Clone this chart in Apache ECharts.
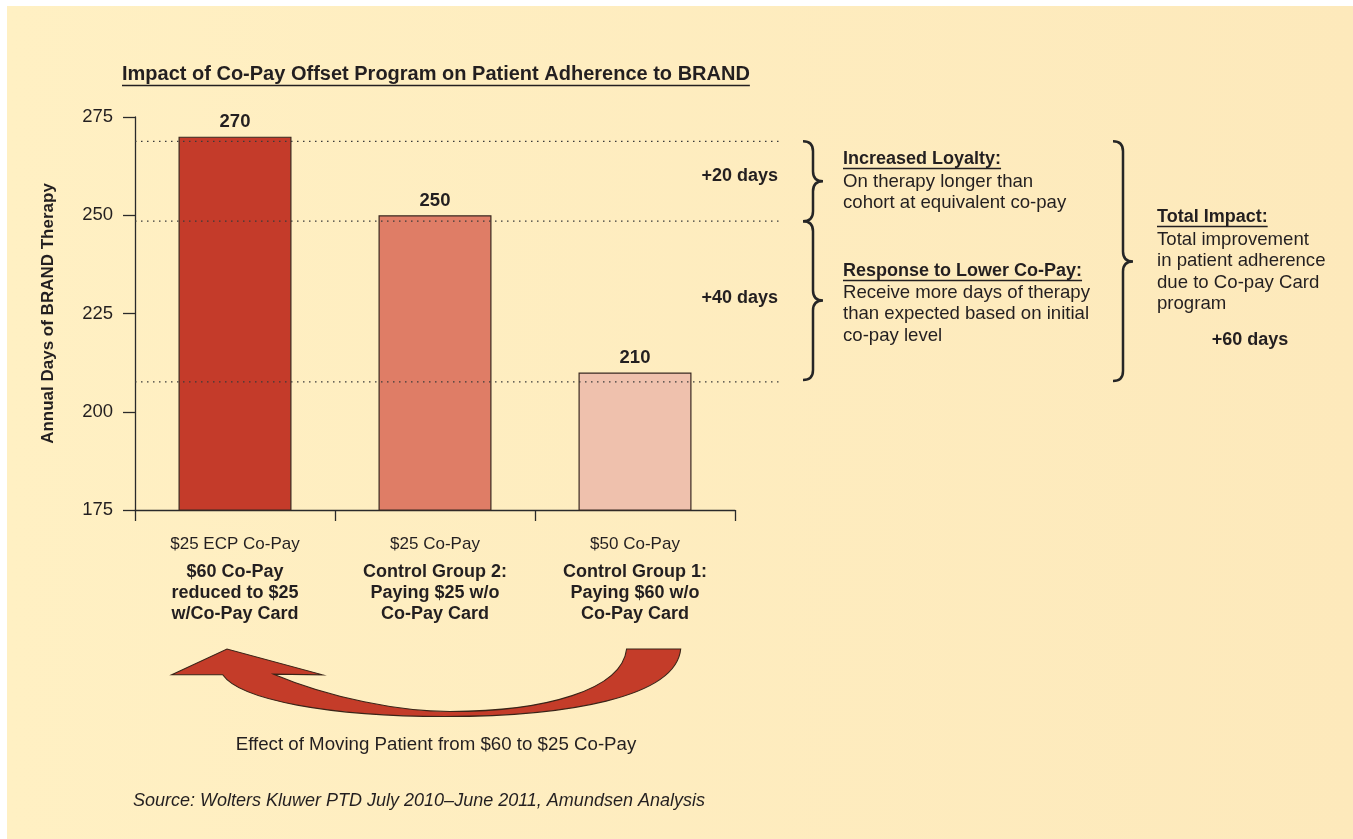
<!DOCTYPE html>
<html>
<head>
<meta charset="utf-8">
<script src="https://cdn.jsdelivr.net/npm/echarts@6/dist/echarts.min.js"></script>
<style>
html,body{margin:0;padding:0;background:#ffffff;}
#chart{width:1353px;height:839px;}
</style>
</head>
<body>
<div id="chart"></div>
<script>
// ---- data ----
const categories = ['$25 ECP Co-Pay', '$25 Co-Pay', '$50 Co-Pay'];
const groupLabels = [
  ['$60 Co-Pay', 'reduced to $25', 'w/Co-Pay Card'],
  ['Control Group 2:', 'Paying $25 w/o', 'Co-Pay Card'],
  ['Control Group 1:', 'Paying $60 w/o', 'Co-Pay Card']
];
const daysValues = [270, 250, 210];
const barColors = ['#C43B2A', '#DF7D66', '#EFC1AD'];
const yMin = 175, yMax = 275, yStep = 25;
const guideLevels = [268.8, 248.5, 207.6];
const gapLabels = ['+20 days', '+40 days'];
const totalLabel = '+60 days';

const FONT = '"Liberation Sans", Arial, sans-serif';
const INK = '#231f20';

// custom shape drawing a list of path commands
const CmdPath = echarts.graphic.extendShape({
  shape: {cmds: []},
  buildPath: function (ctx, shape) {
    shape.cmds.forEach(function (c) {
      if (c[0] === 'M') ctx.moveTo(c[1], c[2]);
      else if (c[0] === 'L') ctx.lineTo(c[1], c[2]);
      else if (c[0] === 'Q') ctx.quadraticCurveTo(c[1], c[2], c[3], c[4]);
      else if (c[0] === 'C') ctx.bezierCurveTo(c[1], c[2], c[3], c[4], c[5], c[6]);
      else if (c[0] === 'Z') ctx.closePath();
    });
  }
});
echarts.graphic.registerShape('cmdPath', CmdPath);

const chart = echarts.init(document.getElementById('chart'), null, {renderer: 'canvas'});

const option = {
  backgroundColor: 'transparent',
  animation: false,
  textStyle: {fontFamily: FONT, color: INK},
  title: {
    text: 'Impact of Co-Pay Offset Program on Patient Adherence to BRAND',
    left: 122, top: 64.5, padding: 0,
    textStyle: {fontFamily: FONT, fontSize: 20, fontWeight: 'bold', color: INK}
  },
  grid: {left: 135, right: 618, top: 117, bottom: 329, containLabel: false},
  xAxis: {
    type: 'category',
    data: categories,
    axisLine: {show: true, lineStyle: {color: '#2a2a2a', width: 1.3}},
    axisTick: {show: true, length: 11, alignWithLabel: false, lineStyle: {color: '#2a2a2a', width: 1.3}},
    axisLabel: {
      margin: 16.5,
      interval: 0,
      formatter: function (v, i) {
        return '{a|' + v + '}\n' + groupLabels[i].map(function (s) { return '{b|' + s + '}'; }).join('\n');
      },
      rich: {
        a: {fontFamily: FONT, fontSize: 17, lineHeight: 35.5, color: INK, align: 'center'},
        b: {fontFamily: FONT, fontSize: 18, fontWeight: 'bold', lineHeight: 20.7, color: INK, align: 'center'}
      }
    }
  },
  yAxis: {
    type: 'value',
    min: yMin, max: yMax, interval: yStep,
    name: 'Annual Days of BRAND Therapy',
    nameLocation: 'middle',
    nameRotate: 90,
    nameGap: 78,
    nameTextStyle: {fontFamily: FONT, fontSize: 17, fontWeight: 'bold', color: INK},
    axisLine: {show: true, lineStyle: {color: '#2a2a2a', width: 1.3}},
    axisTick: {show: true, length: 12, lineStyle: {color: '#2a2a2a', width: 1.3}},
    axisLabel: {margin: 22, fontFamily: FONT, fontSize: 18.5, color: INK},
    splitLine: {show: false}
  },
  series: [{
    type: 'bar',
    barWidth: 113,
    data: daysValues.map(function (v, i) {
      return {value: v, itemStyle: {color: barColors[i]}};
    }),
    itemStyle: {borderColor: '#3a2a22', borderWidth: 1.2},
    label: {
      show: true, position: 'top', distance: 5,
      fontFamily: FONT, fontSize: 18.5, fontWeight: 'bold', color: INK
    },
    z: 2
  }]
};
chart.setOption(option);

// ---- annotations ----
const mctx = document.createElement('canvas').getContext('2d');
function textW(str, size, weight) {
  mctx.font = (weight || 'normal') + ' ' + size + 'px ' + FONT;
  return mctx.measureText(str).width;
}
function yPix(v) { return chart.convertToPixel({yAxisIndex: 0}, v); }

const gl = guideLevels.map(yPix);
const axisX = chart.convertToPixel({xAxisIndex: 0}, categories[0]) - 100;

function brace(x0, yT, yB, yTip, w) {
  const xm = x0 + w / 2, xt = x0 + w, r = 10;
  return [
    ['M', x0, yT],
    ['Q', xm, yT, xm, yT + r],
    ['L', xm, yTip - r],
    ['Q', xm, yTip, xt, yTip],
    ['Q', xm, yTip, xm, yTip + r],
    ['L', xm, yB - r],
    ['Q', xm, yB, x0, yB]
  ];
}

const els = [];
// background panel
els.push({type: 'rect', z: -10, silent: true,
  shape: {x: 7, y: 6, width: 1346, height: 833},
  style: {fill: {type: 'linear', x: 0, y: 0, x2: 1, y2: 0, colorStops: [
    {offset: 0, color: '#FFF0C3'}, {offset: 1, color: '#FDE9BB'}]}}});

// title underline
const tW = textW(option.title.text, 20, 'bold');
els.push({type: 'line', z: 5, shape: {x1: 122, y1: 85.5, x2: 122 + tW, y2: 85.5}, style: {stroke: INK, lineWidth: 1.6}});

// dotted guide lines
gl.forEach(function (y) {
  els.push({type: 'line', z: 5, shape: {x1: axisX, y1: y, x2: 780, y2: y},
    style: {stroke: '#3a3a3a', lineWidth: 1.3, lineDash: [1.5, 4.5]}});
});

// gap labels
const gapY = [(gl[0] + gl[1]) / 2 - 5, (gl[1] + gl[2]) / 2 - 3];
gapLabels.forEach(function (s, i) {
  els.push({type: 'text', z: 5, style: {text: s, x: 778, y: gapY[i], align: 'right', verticalAlign: 'middle',
    font: 'bold 18px ' + FONT, fill: INK}});
});

// braces
const braceStyle = {stroke: '#262626', lineWidth: 2.5, fill: null};
els.push({type: 'cmdPath', z: 5, shape: {cmds: brace(803, gl[0], gl[1], (gl[0] + gl[1]) / 2, 20)}, style: braceStyle});
els.push({type: 'cmdPath', z: 5, shape: {cmds: brace(803, gl[1], gl[2] - 2, (gl[1] + gl[2]) / 2 - 1, 20)}, style: braceStyle});
els.push({type: 'cmdPath', z: 5, shape: {cmds: brace(1113, gl[0], gl[2] - 1, (gl[0] + gl[2]) / 2, 20)}, style: braceStyle});

// text blocks
function heading(str, x, y) {
  els.push({type: 'text', z: 5, style: {text: str, x: x, y: y, verticalAlign: 'middle', font: 'bold 18px ' + FONT, fill: INK}});
  const w = textW(str, 18, 'bold');
  els.push({type: 'line', z: 5, shape: {x1: x, y1: y + 9.5, x2: x + w, y2: y + 9.5}, style: {stroke: INK, lineWidth: 1.5}});
}
function lines(arr, x, y0, lh) {
  arr.forEach(function (s, i) {
    els.push({type: 'text', z: 5, style: {text: s, x: x, y: y0 + i * lh, verticalAlign: 'middle', font: '18.6px ' + FONT, fill: INK}});
  });
}
heading('Increased Loyalty:', 843, 159);
lines(['On therapy longer than', 'cohort at equivalent co-pay'], 843, 181.5, 21.5);
heading('Response to Lower Co-Pay:', 843, 271);
lines(['Receive more days of therapy', 'than expected based on initial', 'co-pay level'], 843, 293, 21.2);
heading('Total Impact:', 1157, 217);
lines(['Total improvement', 'in patient adherence', 'due to Co-pay Card', 'program'], 1157, 240, 21.3);
els.push({type: 'text', z: 5, style: {text: totalLabel, x: 1250, y: 340, align: 'center', verticalAlign: 'middle', font: 'bold 18px ' + FONT, fill: INK}});

// curved arrow
const arrowCmds = [
  ['M', 171.7, 674.8], ['L', 227, 649], ['L', 322.5, 674.8], ['L', 273.6, 674.2],
  ['C', 330, 698, 400, 711.5, 450, 711.5],
  ['C', 545, 711.5, 622, 690, 626.6, 649],
  ['L', 680.7, 649],
  ['C', 676, 698, 565, 716.5, 445, 716.5],
  ['C', 330, 716.5, 240, 700, 222.7, 674.8],
  ['Z']
];
els.push({type: 'cmdPath', z: 5, shape: {cmds: arrowCmds}, style: {fill: '#C43C29', stroke: '#3a2418', lineWidth: 1.1}});

els.push({type: 'text', z: 5, style: {text: 'Effect of Moving Patient from $60 to $25 Co-Pay', x: 436, y: 745, align: 'center', verticalAlign: 'middle', font: '18.7px ' + FONT, fill: INK}});
els.push({type: 'text', z: 5, style: {text: 'Source: Wolters Kluwer PTD July 2010\u2013June 2011, Amundsen Analysis', x: 133, y: 801, verticalAlign: 'middle', font: 'italic 18px ' + FONT, fill: INK}});

chart.setOption({graphic: {elements: els}});
</script>
</body>
</html>
